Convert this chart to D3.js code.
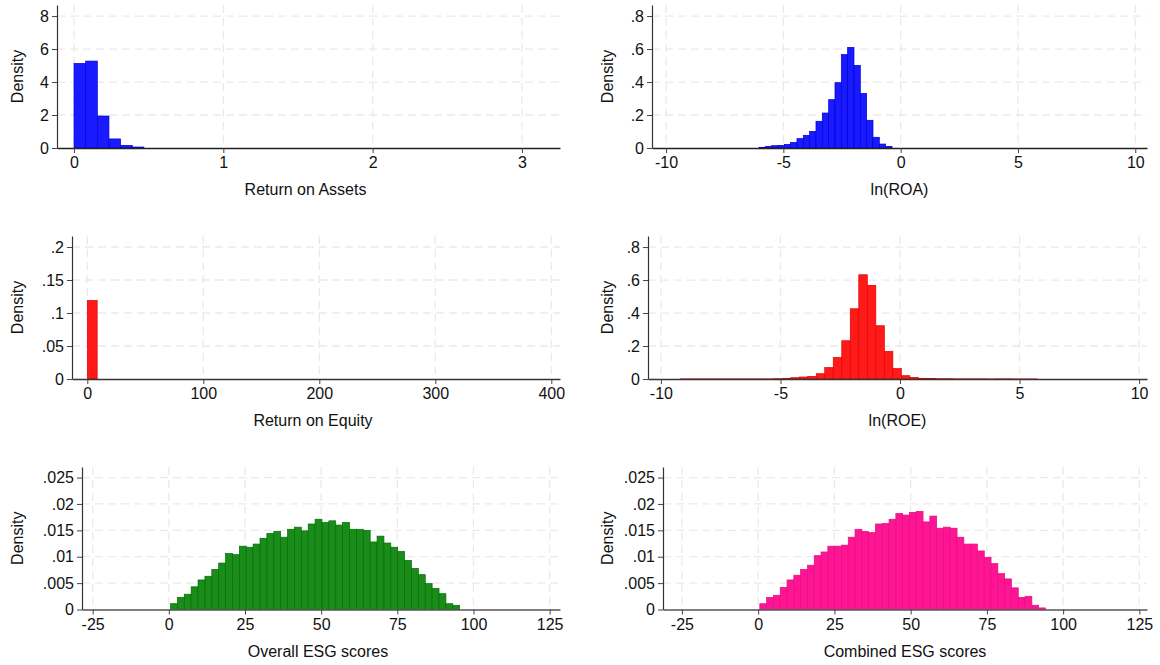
<!DOCTYPE html>
<html>
<head>
<meta charset="utf-8">
<script src="https://cdn.jsdelivr.net/npm/d3@7"></script>
<style>
  html, body { margin: 0; padding: 0; background: #fff; }
  svg { display: block; font-family: "Liberation Sans", Arial, sans-serif; }
</style>
</head>
<body>
<div id="chart"></div>
<script>
// histogram bins: first edge, bin width, density per bin
const roaStart = 0, roaWidth = 0.078;
const roaDensity = [5.13, 5.27, 1.94, 0.55, 0.16, 0.06];

const lnRoaStart = -6.04, lnRoaWidth = 0.27;
const lnRoaDensity = [0.004, 0.010, 0.014, 0.016, 0.022, 0.034, 0.057, 0.077, 0.101, 0.162,
  0.212, 0.293, 0.396, 0.566, 0.610, 0.501, 0.331, 0.168, 0.065, 0.024, 0.010];

const roeStart = 0, roeWidth = 8.5;
const roeDensity = [0.119];

const lnRoeStart = -9.2, lnRoeWidth = 0.356;
const lnRoeDensity = [0.0008, 0.0008, 0.0008, 0.0008, 0.0008, 0.0008, 0.0008, 0.0008, 0.0008, 0.0008, 0.0008,
  0.002, 0.004, 0.008, 0.012, 0.016, 0.032, 0.069, 0.131, 0.232, 0.426, 0.632, 0.568, 0.323, 0.168,
  0.063, 0.020, 0.010, 0.004, 0.004,
  0.002, 0.002, 0.001, 0.001, 0.001, 0.001, 0.0005, 0.001, 0.001, 0.0005, 0.0005, 0.0005];

const overallStart = 0.55, overallWidth = 2.26;
const overallDensity = [0.0011, 0.0023, 0.0029, 0.0043, 0.0056, 0.0063, 0.0076, 0.0088, 0.0106, 0.0104,
  0.0120, 0.0118, 0.0124, 0.0135, 0.0144, 0.0148, 0.0137, 0.0152, 0.0156, 0.0149,
  0.0162, 0.0171, 0.0165, 0.0168, 0.0160, 0.0165, 0.0152, 0.0152, 0.0150, 0.0128,
  0.0139, 0.0126, 0.0118, 0.0110, 0.0093, 0.0078, 0.0066, 0.0049, 0.0040, 0.0030,
  0.0011, 0.0008];

const combinedStart = 0.55, combinedWidth = 2.23;
const combinedDensity = [0.0011, 0.0023, 0.0027, 0.0042, 0.0056, 0.0065, 0.0076, 0.0084, 0.0102, 0.0109,
  0.0120, 0.0120, 0.0122, 0.0137, 0.0152, 0.0148, 0.0146, 0.0162, 0.0163, 0.0171,
  0.0182, 0.0179, 0.0184, 0.0186, 0.0166, 0.0177, 0.0154, 0.0156, 0.0154, 0.0137,
  0.0124, 0.0124, 0.0111, 0.0099, 0.0087, 0.0068, 0.0058, 0.0041, 0.0023, 0.0025,
  0.0008, 0.0003];

const roaXTicks = [0, 1, 2, 3];
const roaYTicks = [0, 2, 4, 6, 8];
const lnXTicks = [-10, -5, 0, 5, 10];
const lnYTicks = [0, 0.2, 0.4, 0.6, 0.8];
const roeXTicks = [0, 100, 200, 300, 400];
const roeYTicks = [0, 0.05, 0.1, 0.15, 0.2];
const esgXTicks = [-25, 0, 25, 50, 75, 100, 125];
const esgYTicks = [0, 0.005, 0.01, 0.015, 0.02, 0.025];

const W = 1160, H = 665;
const FS = 16;

const panels = [
  { title: "Return on Assets", start: roaStart, width: roaWidth, dens: roaDensity,
    xt: roaXTicks, yt: roaYTicks, xd: [-0.114, 3.255], yd: [0, 8.67],
    box: [57, 560, 5, 148], fill: "#1a1aff", line: "#0000d8", axis: "#222" },
  { title: "ln(ROA)", start: lnRoaStart, width: lnRoaWidth, dens: lnRoaDensity,
    xt: lnXTicks, yt: lnYTicks, xd: [-10.6, 10.5], yd: [0, 0.867],
    box: [652, 1147, 5, 148], fill: "#1a1aff", line: "#0000d8", axis: "#222" },
  { title: "Return on Equity", start: roeStart, width: roeWidth, dens: roeDensity,
    xt: roeXTicks, yt: roeYTicks, xd: [-13.2, 407.5], yd: [0, 0.2167],
    box: [72, 560, 236, 379], fill: "#ff1a1a", line: "#e00000", axis: "#333" },
  { title: "ln(ROE)", start: lnRoeStart, width: lnRoeWidth, dens: lnRoeDensity,
    xt: lnXTicks, yt: lnYTicks, xd: [-10.54, 10.33], yd: [0, 0.867],
    box: [648, 1147, 236, 379], fill: "#ff1a1a", line: "#e00000", axis: "#333" },
  { title: "Overall ESG scores", start: overallStart, width: overallWidth, dens: overallDensity,
    xt: esgXTicks, yt: esgYTicks, xd: [-28.5, 128.4], yd: [0, 0.027],
    box: [82, 560, 467, 609.5], fill: "#1a8c1a", line: "#007000", axis: "#555" },
  { title: "Combined ESG scores", start: combinedStart, width: combinedWidth, dens: combinedDensity,
    xt: esgXTicks, yt: esgYTicks, xd: [-31.2, 127.5], yd: [0, 0.027],
    box: [663, 1147, 467, 609.5], fill: "#ff1493", line: "#e0107f", axis: "#555" }
];

// Stata-style labels: .05 instead of 0.05
const fmt = v => String(+v.toFixed(4)).replace(/^0\./, ".").replace(/^-0\./, "-.");

const svg = d3.select("#chart").append("svg")
  .attr("width", W).attr("height", H)
  .attr("viewBox", [0, 0, W, H]);

panels.forEach((p, pi) => {
  const [l, r, t, b] = p.box;
  const x = d3.scaleLinear().domain(p.xd).range([l, r]);
  const y = d3.scaleLinear().domain(p.yd).range([b, t]);
  const g = svg.append("g").attr("class", "panel");

  // dashed grid
  g.append("g").selectAll("line")
    .data(p.yt.filter(v => v > 0))
    .join("line")
      .attr("x1", l).attr("x2", r)
      .attr("y1", d => y(d)).attr("y2", d => y(d))
      .attr("stroke", "#eaeaea").attr("stroke-width", 1.3)
      .attr("stroke-dasharray", "8,5");
  g.append("g").selectAll("line")
    .data(p.xt)
    .join("line")
      .attr("x1", d => x(d)).attr("x2", d => x(d))
      .attr("y1", t).attr("y2", b)
      .attr("stroke", "#eaeaea").attr("stroke-width", 1.3)
      .attr("stroke-dasharray", "8,5");

  // bars
  g.append("g").selectAll("rect")
    .data(p.dens)
    .join("rect")
      .attr("x", (d, i) => x(p.start + i * p.width))
      .attr("width", (d, i) => x(p.start + (i + 1) * p.width) - x(p.start + i * p.width))
      .attr("y", d => y(d))
      .attr("height", d => y(0) - y(d))
      .attr("fill", p.fill)
      .attr("stroke", p.line)
      .attr("stroke-width", 0.7);

  // axes
  const ax = g.append("g")
    .attr("transform", `translate(0,${b})`)
    .call(d3.axisBottom(x).tickValues(p.xt).tickFormat(fmt).tickSize(5).tickSizeOuter(0).tickPadding(4));
  ax.select(".domain").attr("stroke", p.axis).attr("stroke-width", 1.3);
  ax.selectAll(".tick line").attr("stroke", "#444");
  ax.selectAll("text").attr("font-size", FS).attr("fill", "#111")
    .attr("font-family", "Liberation Sans, Arial, sans-serif");

  const ay = g.append("g")
    .attr("transform", `translate(${l},0)`)
    .call(d3.axisLeft(y).tickValues(p.yt).tickFormat(fmt).tickSize(5).tickSizeOuter(0).tickPadding(3));
  ay.select(".domain").attr("stroke", "#333").attr("stroke-width", 1.2);
  ay.selectAll(".tick line").attr("stroke", "#444");
  ay.selectAll("text").attr("font-size", FS).attr("fill", "#111")
    .attr("font-family", "Liberation Sans, Arial, sans-serif");

  // titles
  g.append("text")
    .attr("x", (l + r) / 2 + (pi % 2 === 0 ? -3 : 0))
    .attr("y", b + 47)
    .attr("text-anchor", "middle")
    .attr("font-size", FS).attr("fill", "#111")
    .text(p.title);

  const tx = pi % 2 === 0 ? 18 : 608;
  g.append("text")
    .attr("transform", `translate(${tx + 5},${(t + b) / 2}) rotate(-90)`)
    .attr("text-anchor", "middle")
    .attr("font-size", FS).attr("fill", "#111")
    .text("Density");
});
</script>
</body>
</html>
